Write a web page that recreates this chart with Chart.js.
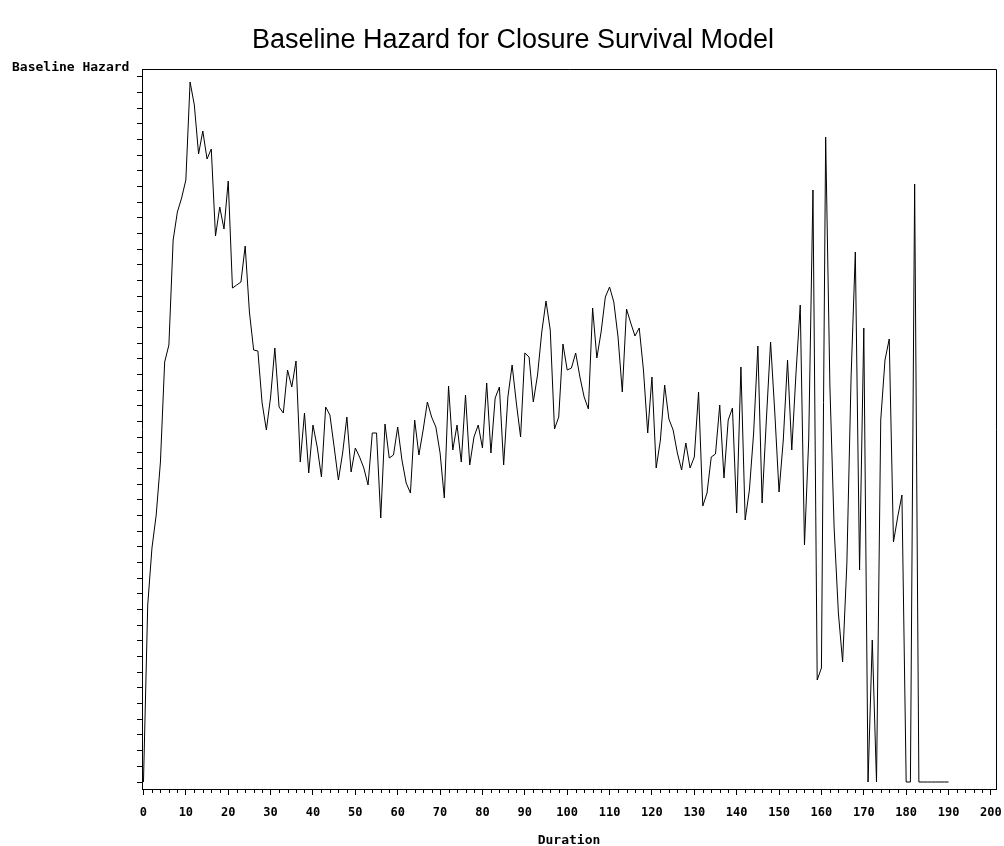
<!DOCTYPE html>
<html>
<head>
<meta charset="utf-8">
<title>Baseline Hazard for Closure Survival Model</title>
<script src="https://cdn.jsdelivr.net/npm/chart.js@4.4.1/dist/chart.umd.min.js"></script>
<style>
    html, body { margin: 0; padding: 0; background: #fff; }
    #wrap { width: 1004px; height: 846px; }
</style>
</head>
<body>
<div id="wrap"><canvas id="hazardChart" width="1004" height="846"></canvas></div>
<script>
// ========================
// DADOS
// ========================
const chartTitle = 'Baseline Hazard for Closure Survival Model';
const yAxisLabel = 'Baseline Hazard';
const xAxisLabel = 'Duration';

const durations = [
    0, 1, 2, 3, 4, 5, 6, 7, 8, 9, 10, 11, 12, 13, 14, 15, 16, 17, 18, 19,
    20, 21, 22, 23, 24, 25, 26, 27, 28, 29, 30, 31, 32, 33, 34, 35, 36, 37, 38, 39,
    40, 41, 42, 43, 44, 45, 46, 47, 48, 49, 50, 51, 52, 53, 54, 55, 56, 57, 58, 59,
    60, 61, 62, 63, 64, 65, 66, 67, 68, 69, 70, 71, 72, 73, 74, 75, 76, 77, 78, 79,
    80, 81, 82, 83, 84, 85, 86, 87, 88, 89, 90, 91, 92, 93, 94, 95, 96, 97, 98, 99,
    100, 101, 102, 103, 104, 105, 106, 107, 108, 109, 110, 111, 112, 113, 114, 115, 116, 117, 118, 119,
    120, 121, 122, 123, 124, 125, 126, 127, 128, 129, 130, 131, 132, 133, 134, 135, 136, 137, 138, 139,
    140, 141, 142, 143, 144, 145, 146, 147, 148, 149, 150, 151, 152, 153, 154, 155, 156, 157, 158, 159,
    160, 161, 162, 163, 164, 165, 166, 167, 168, 169, 170, 171, 172, 173, 174, 175, 176, 177, 178, 179,
    180, 181, 182, 183, 184, 185, 186, 187, 188, 189, 190
];

const hazard = [
    0, 0.0177, 0.0234, 0.0267, 0.0320, 0.0420, 0.0437, 0.0542, 0.0570, 0.0584,
    0.0602, 0.0700, 0.0677, 0.0628, 0.0651, 0.0623, 0.0633, 0.0546, 0.0575, 0.0553,
    0.0601, 0.0494, 0.0497, 0.0500, 0.0536, 0.0470, 0.0432, 0.0431, 0.0379, 0.0352,
    0.0385, 0.0434, 0.0375, 0.0369, 0.0412, 0.0395, 0.0421, 0.0320, 0.0369, 0.0309,
    0.0357, 0.0335, 0.0305, 0.0375, 0.0367, 0.0335, 0.0302, 0.0329, 0.0365, 0.0310,
    0.0334, 0.0325, 0.0314, 0.0297, 0.0349, 0.0349, 0.0264, 0.0358, 0.0324, 0.0327,
    0.0355, 0.0322, 0.0299, 0.0289, 0.0362, 0.0327, 0.0352, 0.0380, 0.0365, 0.0355,
    0.0329, 0.0284, 0.0396, 0.0332, 0.0357, 0.0320, 0.0387, 0.0317, 0.0345, 0.0357,
    0.0334, 0.0399, 0.0329, 0.0384, 0.0395, 0.0317, 0.0385, 0.0417, 0.0379, 0.0345,
    0.0429, 0.0425, 0.0380, 0.0407, 0.0450, 0.0481, 0.0452, 0.0353, 0.0365, 0.0438,
    0.0412, 0.0414, 0.0429, 0.0405, 0.0385, 0.0373, 0.0474, 0.0424, 0.0450, 0.0485,
    0.0495, 0.0480, 0.0445, 0.0390, 0.0473, 0.0459, 0.0446, 0.0454, 0.0412, 0.0349,
    0.0405, 0.0314, 0.0342, 0.0397, 0.0363, 0.0352, 0.0329, 0.0312, 0.0339, 0.0314,
    0.0325, 0.0390, 0.0276, 0.0289, 0.0325, 0.0328, 0.0377, 0.0304, 0.0362, 0.0374,
    0.0269, 0.0415, 0.0262, 0.0292, 0.0349, 0.0436, 0.0279, 0.0362, 0.0440, 0.0369,
    0.0290, 0.0342, 0.0422, 0.0332, 0.0409, 0.0477, 0.0237, 0.0342, 0.0592, 0.0102,
    0.0114, 0.0645, 0.0396, 0.0254, 0.0169, 0.0120, 0.0218, 0.0405, 0.0530, 0.0212,
    0.0454, 0, 0.0142, 0, 0.0362, 0.0422, 0.0443, 0.0240, 0.0265, 0.0287,
    0, 0, 0.0598, 0, 0, 0, 0, 0, 0, 0,
    0
];

// ticks do eixo X (com rótulo) e do eixo Y (sem rótulo)
const xTickValues = [0, 10, 20, 30, 40, 50, 60, 70, 80, 90, 100, 110, 120, 130, 140, 150, 160, 170, 180, 190, 200];
const xMinorStep = 2;
const yTickStep = 0.001567;
const yTickCount = 46;

// ========================
// PLUGIN: moldura, ticks menores, rótulo do eixo Y
// ========================
const framePlugin = {
    id: 'frame',
    afterDraw(chart) {
        const { ctx, chartArea, scales } = chart;
        const { left, top, right, bottom } = chartArea;

        ctx.save();
        ctx.strokeStyle = '#000';
        ctx.lineWidth = 1;

        // topo e lado direito
        ctx.beginPath();
        ctx.moveTo(left, top + 0.5);
        ctx.lineTo(Math.round(right) + 0.5, top + 0.5);
        ctx.lineTo(Math.round(right) + 0.5, bottom);
        ctx.stroke();

        // ticks menores do eixo X
        ctx.beginPath();
        for (let v = 0; v <= 200; v += xMinorStep) {
            if (v % 10 === 0) continue;
            const px = Math.round(scales.x.getPixelForValue(v)) + 0.5;
            ctx.moveTo(px, bottom);
            ctx.lineTo(px, bottom + 4);
        }
        ctx.stroke();

        // rótulo do eixo Y no canto superior esquerdo
        ctx.fillStyle = '#000';
        ctx.font = 'bold 13px "DejaVu Sans Mono"';
        ctx.textBaseline = 'alphabetic';
        ctx.textAlign = 'left';
        ctx.fillText(yAxisLabel, 12, 71);

        ctx.restore();
    }
};

// ========================
// GRÁFICO
// ========================
const monoFont = { family: '"DejaVu Sans Mono", monospace', weight: 'bold', size: 12 };

new Chart(document.getElementById('hazardChart').getContext('2d'), {
    type: 'line',
    data: {
        datasets: [{
            label: yAxisLabel,
            data: durations.map((d, i) => ({ x: d, y: hazard[i] })),
            borderColor: '#000',
            borderWidth: 1,
            pointRadius: 0,
            tension: 0,
            fill: false
        }]
    },
    options: {
        responsive: false,
        animation: false,
        devicePixelRatio: 1,
        layout: { padding: { left: 30, right: 8, top: 0, bottom: 0 } },
        plugins: {
            legend: { display: false },
            tooltip: { enabled: false },
            title: {
                display: true,
                text: chartTitle,
                color: '#000',
                font: { family: '"Liberation Sans", Arial, sans-serif', size: 27, weight: 'normal', lineHeight: 1.2 },
                padding: { top: 24, bottom: 12.6 }
            }
        },
        scales: {
            x: {
                type: 'linear',
                min: -0.35,
                max: 201.2,
                afterBuildTicks: scale => {
                    scale.ticks = xTickValues.map(v => ({ value: v }));
                },
                afterFit: scale => {
                    scale.height = 57;
                    // rótulos das pontas não devem encolher a área do gráfico
                    scale.paddingLeft = 0;
                    scale.paddingRight = 0;
                },
                grid: {
                    display: true,
                    drawOnChartArea: false,
                    drawTicks: true,
                    tickLength: 6,
                    color: '#000',
                    tickColor: '#000'
                },
                border: { display: true, color: '#000', width: 1 },
                ticks: {
                    color: '#000',
                    font: monoFont,
                    padding: 11,
                    maxRotation: 0,
                    autoSkip: false
                },
                title: {
                    display: true,
                    text: xAxisLabel,
                    color: '#000',
                    font: { family: '"DejaVu Sans Mono", monospace', weight: 'bold', size: 13, lineHeight: 0.8 },
                    padding: { top: 0, bottom: 0 }
                }
            },
            y: {
                type: 'linear',
                min: -0.0007,
                max: 0.0713,
                afterBuildTicks: scale => {
                    const ticks = [];
                    for (let i = 0; i < yTickCount; i++) {
                        ticks.push({ value: i * yTickStep });
                    }
                    scale.ticks = ticks;
                },
                afterFit: scale => {
                    scale.width = 112;
                    scale.paddingTop = 0;
                    scale.paddingBottom = 0;
                },
                grid: {
                    display: true,
                    drawOnChartArea: false,
                    drawTicks: true,
                    tickLength: 5,
                    color: '#000',
                    tickColor: '#000'
                },
                border: { display: true, color: '#000', width: 1 },
                ticks: { display: false }
            }
        }
    },
    plugins: [framePlugin]
});
</script>
</body>
</html>
